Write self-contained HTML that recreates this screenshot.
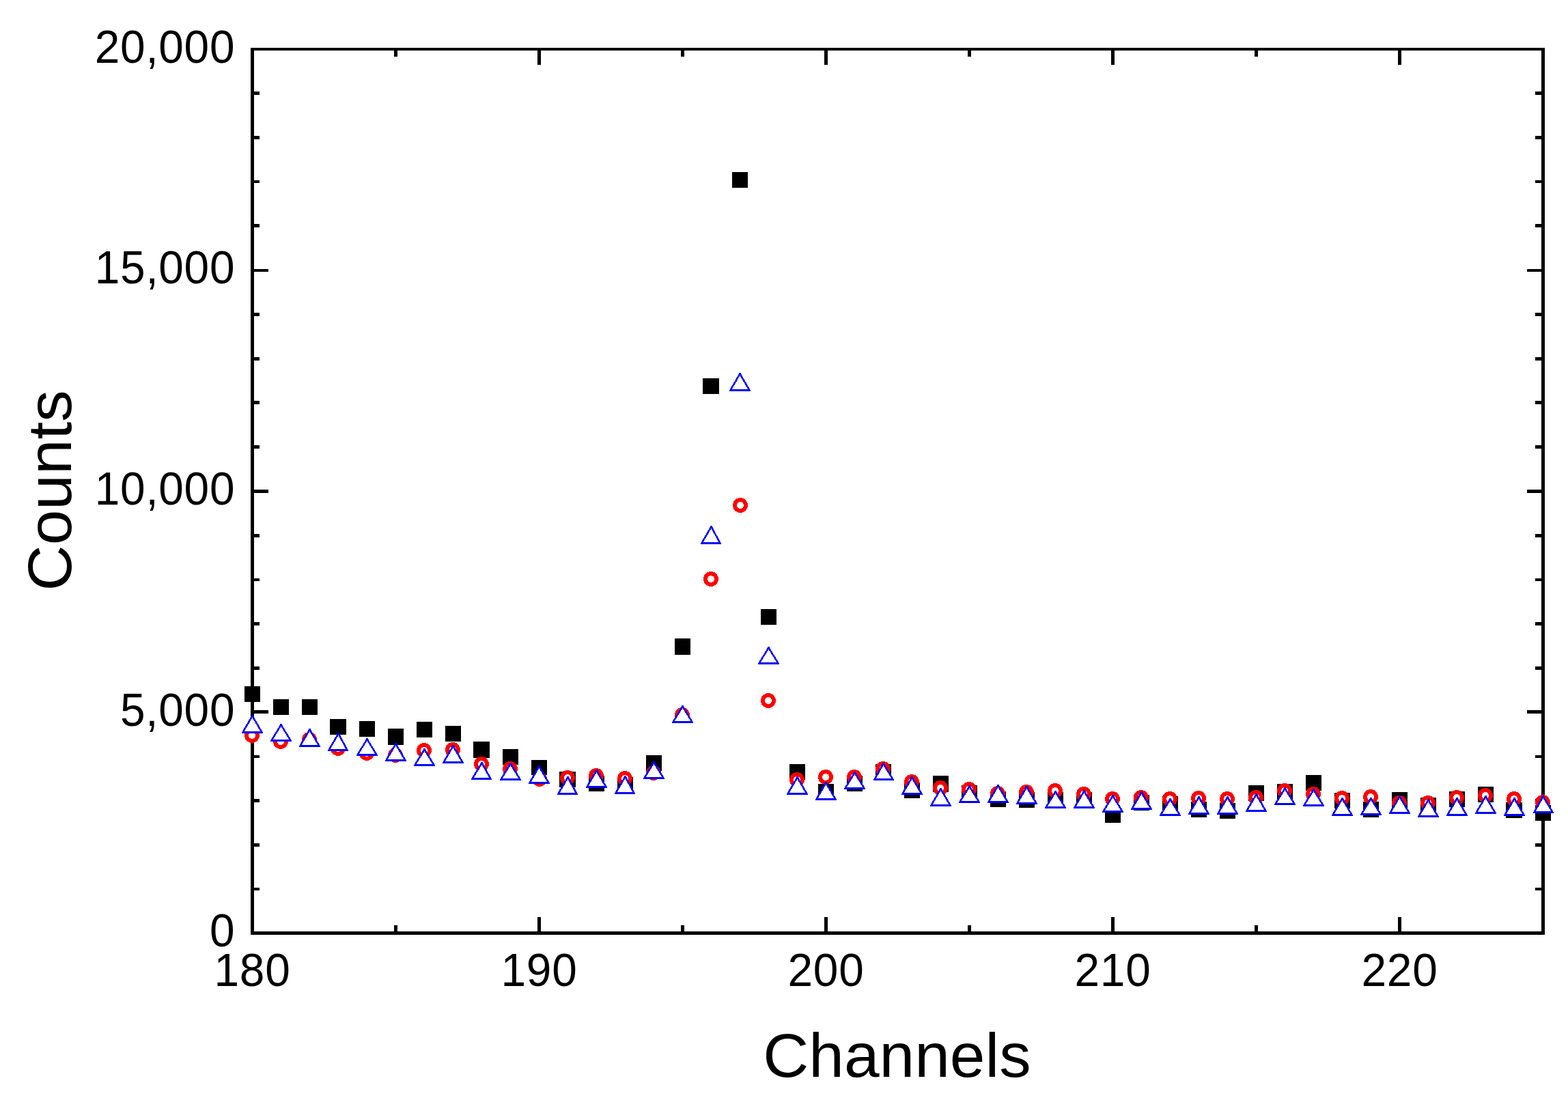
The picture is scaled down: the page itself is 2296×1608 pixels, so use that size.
<!DOCTYPE html>
<html lang="en"><head><meta charset="utf-8"><title>Counts vs Channels</title>
<style>html,body{margin:0;padding:0;background:#fff}body{width:2296px;height:1608px;overflow:hidden}svg{display:block}text{font-family:"Liberation Sans",Arial,Helvetica,sans-serif;fill:#000}.tk{font-size:69.4px}.tt{font-size:91px}</style></head><body>
<svg xmlns="http://www.w3.org/2000/svg" width="2296" height="1608" viewBox="0 0 2296 1608">
<rect x="0" y="0" width="2296" height="1608" fill="#fff"/>
<g fill="#000" shape-rendering="crispEdges">
<path d="M367 70H372V1369H367zM2257 70H2262V1369H2257zM367 70H2262V74H367zM367 1364H2262V1369H367zM367 1300H380V1304H367zM2248 1300H2262V1304H2248zM367 1235H380V1240H367zM2248 1235H2262V1240H2248zM367 1170H380V1175H367zM2248 1170H2262V1175H2248zM367 1106H380V1110H367zM2248 1106H2262V1110H2248zM367 1040H393V1045H367zM2236 1040H2262V1045H2236zM367 976H380V981H367zM2248 976H2262V981H2248zM367 911H380V916H367zM2248 911H2262V916H2248zM367 847H380V851H367zM2248 847H2262V851H2248zM367 782H380V787H367zM2248 782H2262V787H2248zM367 717H393V722H367zM2236 717H2262V722H2236zM367 652H380V657H367zM2248 652H2262V657H2248zM367 587H380V592H367zM2248 587H2262V592H2248zM367 523H380V528H367zM2248 523H2262V528H2248zM367 458H380V463H367zM2248 458H2262V463H2248zM367 394H393V398H367zM2236 394H2262V398H2236zM367 328H380V333H367zM2248 328H2262V333H2248zM367 264H380V268H367zM2248 264H2262V268H2248zM367 199H380V204H367zM2248 199H2262V204H2248zM367 134H380V139H367zM2248 134H2262V139H2248zM577 1355H582V1369H577zM577 70H582V83H577zM787 1343H792V1369H787zM787 70H792V95H787zM997 1355H1002V1369H997zM997 70H1002V83H997zM1207 1343H1212V1369H1207zM1207 70H1212V95H1207zM1417 1355H1422V1369H1417zM1417 70H1422V83H1417zM1627 1343H1632V1369H1627zM1627 70H1632V95H1627zM1837 1355H1842V1369H1837zM1837 70H1842V83H1837zM2047 1343H2052V1369H2047zM2047 70H2052V95H2047z"/>
</g>
<g class="tk" text-anchor="end" letter-spacing="0.7">
<text transform="translate(344.20 1386.00) scale(0.949 1)">0</text>
<text transform="translate(344.20 1063.00) scale(0.949 1)">5,000</text>
<text transform="translate(344.20 739.00) scale(0.949 1)">10,000</text>
<text transform="translate(344.20 415.00) scale(0.949 1)">15,000</text>
<text transform="translate(344.20 92.00) scale(0.949 1)">20,000</text>
</g>
<g class="tk" text-anchor="middle" letter-spacing="0.7">
<text transform="translate(369.50 1444.00) scale(0.949 1)">180</text>
<text transform="translate(789.50 1444.00) scale(0.949 1)">190</text>
<text transform="translate(1209.50 1444.00) scale(0.949 1)">200</text>
<text transform="translate(1629.50 1444.00) scale(0.949 1)">210</text>
<text transform="translate(2049.50 1444.00) scale(0.949 1)">220</text>
</g>
<text class="tt" text-anchor="middle" transform="translate(1313.4 1577) scale(1.0205 1)">Channels</text>
<text class="tt" text-anchor="middle" transform="translate(103.8 718.3) rotate(-90) scale(1.0205 1)">Counts</text>
<g fill="#000" shape-rendering="crispEdges">
<rect x="358" y="1005" width="23" height="23"/>
<rect x="400" y="1024" width="23" height="23"/>
<rect x="442" y="1024" width="23" height="23"/>
<rect x="483" y="1053" width="24" height="23"/>
<rect x="526" y="1056" width="23" height="23"/>
<rect x="568" y="1067" width="23" height="24"/>
<rect x="610" y="1057" width="23" height="23"/>
<rect x="652" y="1063" width="23" height="23"/>
<rect x="693" y="1086" width="24" height="24"/>
<rect x="736" y="1097" width="23" height="23"/>
<rect x="778" y="1113" width="23" height="22"/>
<rect x="819" y="1130" width="24" height="23"/>
<rect x="862" y="1136" width="23" height="23"/>
<rect x="904" y="1138" width="23" height="23"/>
<rect x="946" y="1106" width="23" height="23"/>
<rect x="988" y="935" width="23" height="24"/>
<rect x="1029" y="554" width="24" height="23"/>
<rect x="1072" y="252" width="23" height="23"/>
<rect x="1114" y="892" width="23" height="23"/>
<rect x="1156" y="1119" width="23" height="23"/>
<rect x="1198" y="1148" width="23" height="23"/>
<rect x="1240" y="1136" width="23" height="23"/>
<rect x="1282" y="1119" width="23" height="23"/>
<rect x="1324" y="1146" width="23" height="23"/>
<rect x="1366" y="1136" width="23" height="24"/>
<rect x="1408" y="1150" width="23" height="23"/>
<rect x="1450" y="1159" width="23" height="23"/>
<rect x="1492" y="1160" width="23" height="23"/>
<rect x="1534" y="1160" width="23" height="23"/>
<rect x="1576" y="1160" width="23" height="23"/>
<rect x="1618" y="1182" width="23" height="23"/>
<rect x="1660" y="1164" width="23" height="23"/>
<rect x="1702" y="1166" width="23" height="23"/>
<rect x="1744" y="1174" width="23" height="23"/>
<rect x="1786" y="1176" width="23" height="23"/>
<rect x="1828" y="1150" width="23" height="23"/>
<rect x="1870" y="1148" width="23" height="23"/>
<rect x="1912" y="1135" width="23" height="23"/>
<rect x="1954" y="1161" width="23" height="23"/>
<rect x="1996" y="1174" width="23" height="23"/>
<rect x="2038" y="1160" width="23" height="23"/>
<rect x="2080" y="1168" width="23" height="23"/>
<rect x="2122" y="1159" width="23" height="23"/>
<rect x="2164" y="1152" width="23" height="23"/>
<rect x="2205" y="1175" width="24" height="23"/>
<rect x="2248" y="1179" width="23" height="23"/>
</g>
<g fill="#fff" stroke="#f00" stroke-width="5.9" shape-rendering="crispEdges">
<circle cx="369" cy="1077" r="8.05"/>
<circle cx="411" cy="1086" r="8.05"/>
<circle cx="453" cy="1083" r="8.05"/>
<circle cx="495" cy="1096" r="8.05"/>
<circle cx="537" cy="1103" r="8.05"/>
<circle cx="579" cy="1106" r="8.05"/>
<circle cx="621" cy="1099" r="8.05"/>
<circle cx="663" cy="1098" r="8.05"/>
<circle cx="705" cy="1119" r="8.05"/>
<circle cx="747" cy="1126" r="8.05"/>
<circle cx="790" cy="1141" r="8.05"/>
<circle cx="831" cy="1139" r="8.05"/>
<circle cx="873" cy="1136" r="8.05"/>
<circle cx="915" cy="1140" r="8.05"/>
<circle cx="957" cy="1132" r="8.05"/>
<circle cx="999" cy="1047" r="8.05"/>
<circle cx="1041" cy="848" r="8.05"/>
<circle cx="1084" cy="740" r="8.05"/>
<circle cx="1125" cy="1026" r="8.05"/>
<circle cx="1167" cy="1142" r="8.05"/>
<circle cx="1209" cy="1138" r="8.05"/>
<circle cx="1251" cy="1138" r="8.05"/>
<circle cx="1293" cy="1126" r="8.05"/>
<circle cx="1335" cy="1145" r="8.05"/>
<circle cx="1377" cy="1154" r="8.05"/>
<circle cx="1419" cy="1156" r="8.05"/>
<circle cx="1461" cy="1162" r="8.05"/>
<circle cx="1503" cy="1160" r="8.05"/>
<circle cx="1545" cy="1158" r="8.05"/>
<circle cx="1587" cy="1163" r="8.05"/>
<circle cx="1629" cy="1170" r="8.05"/>
<circle cx="1671" cy="1168" r="8.05"/>
<circle cx="1713" cy="1170" r="8.05"/>
<circle cx="1755" cy="1169" r="8.05"/>
<circle cx="1797" cy="1170" r="8.05"/>
<circle cx="1839" cy="1168" r="8.05"/>
<circle cx="1881" cy="1158" r="8.05"/>
<circle cx="1923" cy="1163" r="8.05"/>
<circle cx="1965" cy="1169" r="8.05"/>
<circle cx="2007" cy="1167" r="8.05"/>
<circle cx="2049" cy="1176" r="8.05"/>
<circle cx="2091" cy="1176" r="8.05"/>
<circle cx="2133" cy="1168" r="8.05"/>
<circle cx="2175" cy="1165" r="8.05"/>
<circle cx="2217" cy="1170" r="8.05"/>
<circle cx="2259" cy="1175" r="8.05"/>
</g>
<g shape-rendering="crispEdges">
<path fill="#fff" d="M368 1047h3v1.5L385 1072.5V1074H354V1072.5L368 1048.5z"/><path fill="#00f" fill-rule="evenodd" d="M368 1047h3v1.5L385 1072.5V1074H354V1072.5L368 1048.5zM369.5 1051.07L381.13 1071H357.87z"/>
<path fill="#fff" d="M410 1060h3v1.5L427 1084.5V1086H396V1084.5L410 1061.5z"/><path fill="#00f" fill-rule="evenodd" d="M410 1060h3v1.5L427 1084.5V1086H396V1084.5L410 1061.5zM411.5 1064.07L423.13 1083H399.87z"/>
<path fill="#fff" d="M452 1067h3v1.5L469 1092.5V1094H438V1092.5L452 1068.5z"/><path fill="#00f" fill-rule="evenodd" d="M452 1067h3v1.5L469 1092.5V1094H438V1092.5L452 1068.5zM453.5 1071.07L465.13 1091H441.87z"/>
<path fill="#fff" d="M494 1073h3v1.5L510 1098.5V1100H480V1098.5L494 1074.5z"/><path fill="#00f" fill-rule="evenodd" d="M494 1073h3v1.5L510 1098.5V1100H480V1098.5L494 1074.5zM495.5 1077.07L506.13 1097H483.87z"/>
<path fill="#fff" d="M536 1081h3v1.5L553 1105.5V1107H522V1105.5L536 1082.5z"/><path fill="#00f" fill-rule="evenodd" d="M536 1081h3v1.5L553 1105.5V1107H522V1105.5L536 1082.5zM537.5 1085.07L549.13 1104H525.87z"/>
<path fill="#fff" d="M578 1088h3v1.5L595 1113.5V1115H564V1113.5L578 1089.5z"/><path fill="#00f" fill-rule="evenodd" d="M578 1088h3v1.5L595 1113.5V1115H564V1113.5L578 1089.5zM579.5 1092.07L591.13 1112H567.87z"/>
<path fill="#fff" d="M620 1096h3v1.5L637 1120.5V1122H606V1120.5L620 1097.5z"/><path fill="#00f" fill-rule="evenodd" d="M620 1096h3v1.5L637 1120.5V1122H606V1120.5L620 1097.5zM621.5 1100.07L633.13 1119H609.87z"/>
<path fill="#fff" d="M662 1091h3v1.5L679 1116.5V1118H648V1116.5L662 1092.5z"/><path fill="#00f" fill-rule="evenodd" d="M662 1091h3v1.5L679 1116.5V1118H648V1116.5L662 1092.5zM663.5 1095.07L675.13 1115H651.87z"/>
<path fill="#fff" d="M704 1116h3v1.5L720 1140.5V1142H690V1140.5L704 1117.5z"/><path fill="#00f" fill-rule="evenodd" d="M704 1116h3v1.5L720 1140.5V1142H690V1140.5L704 1117.5zM705.5 1120.07L716.13 1139H693.87z"/>
<path fill="#fff" d="M746 1117h3v1.5L763 1141.5V1143H732V1141.5L746 1118.5z"/><path fill="#00f" fill-rule="evenodd" d="M746 1117h3v1.5L763 1141.5V1143H732V1141.5L746 1118.5zM747.5 1121.07L759.13 1140H735.87z"/>
<path fill="#fff" d="M788 1121h3v1.5L805 1146.5V1148H774V1146.5L788 1122.5z"/><path fill="#00f" fill-rule="evenodd" d="M788 1121h3v1.5L805 1146.5V1148H774V1146.5L788 1122.5zM789.5 1125.07L801.13 1145H777.87z"/>
<path fill="#fff" d="M830 1137h3v1.5L846 1162.5V1164H816V1162.5L830 1138.5z"/><path fill="#00f" fill-rule="evenodd" d="M830 1137h3v1.5L846 1162.5V1164H816V1162.5L830 1138.5zM831.5 1141.07L842.13 1161H819.87z"/>
<path fill="#fff" d="M872 1127h3v1.5L889 1152.5V1154H858V1152.5L872 1128.5z"/><path fill="#00f" fill-rule="evenodd" d="M872 1127h3v1.5L889 1152.5V1154H858V1152.5L872 1128.5zM873.5 1131.07L885.13 1151H861.87z"/>
<path fill="#fff" d="M914 1136h3v1.5L930 1161.5V1163H900V1161.5L914 1137.5z"/><path fill="#00f" fill-rule="evenodd" d="M914 1136h3v1.5L930 1161.5V1163H900V1161.5L914 1137.5zM915.5 1140.07L926.13 1160H903.87z"/>
<path fill="#fff" d="M956 1115h3v1.5L973 1139.5V1141H942V1139.5L956 1116.5z"/><path fill="#00f" fill-rule="evenodd" d="M956 1115h3v1.5L973 1139.5V1141H942V1139.5L956 1116.5zM957.5 1119.07L969.13 1138H945.87z"/>
<path fill="#fff" d="M998 1033h3v1.5L1015 1057.5V1059H984V1057.5L998 1034.5z"/><path fill="#00f" fill-rule="evenodd" d="M998 1033h3v1.5L1015 1057.5V1059H984V1057.5L998 1034.5zM999.5 1037.07L1011.13 1056H987.87z"/>
<path fill="#fff" d="M1040 770h3v1.5L1056 795.5V797H1026V795.5L1040 771.5z"/><path fill="#00f" fill-rule="evenodd" d="M1040 770h3v1.5L1056 795.5V797H1026V795.5L1040 771.5zM1041.5 774.07L1052.13 794H1029.87z"/>
<path fill="#fff" d="M1082 546h3v1.5L1099 571.5V573H1068V571.5L1082 547.5z"/><path fill="#00f" fill-rule="evenodd" d="M1082 546h3v1.5L1099 571.5V573H1068V571.5L1082 547.5zM1083.5 550.07L1095.13 570H1071.87z"/>
<path fill="#fff" d="M1124 947h3v1.5L1141 971.5V973H1110V971.5L1124 948.5z"/><path fill="#00f" fill-rule="evenodd" d="M1124 947h3v1.5L1141 971.5V973H1110V971.5L1124 948.5zM1125.5 951.07L1137.13 970H1113.87z"/>
<path fill="#fff" d="M1166 1137h3v1.5L1183 1162.5V1164H1152V1162.5L1166 1138.5z"/><path fill="#00f" fill-rule="evenodd" d="M1166 1137h3v1.5L1183 1162.5V1164H1152V1162.5L1166 1138.5zM1167.5 1141.07L1179.13 1161H1155.87z"/>
<path fill="#fff" d="M1208 1145h3v1.5L1225 1170.5V1172H1194V1170.5L1208 1146.5z"/><path fill="#00f" fill-rule="evenodd" d="M1208 1145h3v1.5L1225 1170.5V1172H1194V1170.5L1208 1146.5zM1209.5 1149.07L1221.13 1169H1197.87z"/>
<path fill="#fff" d="M1250 1130h3v1.5L1267 1154.5V1156H1236V1154.5L1250 1131.5z"/><path fill="#00f" fill-rule="evenodd" d="M1250 1130h3v1.5L1267 1154.5V1156H1236V1154.5L1250 1131.5zM1251.5 1134.07L1263.13 1153H1239.87z"/>
<path fill="#fff" d="M1292 1117h3v1.5L1309 1141.5V1143H1279V1141.5L1292 1118.5z"/><path fill="#00f" fill-rule="evenodd" d="M1292 1117h3v1.5L1309 1141.5V1143H1279V1141.5L1292 1118.5zM1293.5 1121.07L1305.13 1140H1282.87z"/>
<path fill="#fff" d="M1334 1137h3v1.5L1351 1162.5V1164H1320V1162.5L1334 1138.5z"/><path fill="#00f" fill-rule="evenodd" d="M1334 1137h3v1.5L1351 1162.5V1164H1320V1162.5L1334 1138.5zM1335.5 1141.07L1347.13 1161H1323.87z"/>
<path fill="#fff" d="M1376 1154h3v1.5L1393 1179.5V1181H1362V1179.5L1376 1155.5z"/><path fill="#00f" fill-rule="evenodd" d="M1376 1154h3v1.5L1393 1179.5V1181H1362V1179.5L1376 1155.5zM1377.5 1158.07L1389.13 1178H1365.87z"/>
<path fill="#fff" d="M1418 1150h3v1.5L1435 1174.5V1176H1404V1174.5L1418 1151.5z"/><path fill="#00f" fill-rule="evenodd" d="M1418 1150h3v1.5L1435 1174.5V1176H1404V1174.5L1418 1151.5zM1419.5 1154.07L1431.13 1173H1407.87z"/>
<path fill="#fff" d="M1460 1149h3v1.5L1477 1174.5V1176H1446V1174.5L1460 1150.5z"/><path fill="#00f" fill-rule="evenodd" d="M1460 1149h3v1.5L1477 1174.5V1176H1446V1174.5L1460 1150.5zM1461.5 1153.07L1473.13 1173H1449.87z"/>
<path fill="#fff" d="M1502 1151h3v1.5L1519 1176.5V1178H1488V1176.5L1502 1152.5z"/><path fill="#00f" fill-rule="evenodd" d="M1502 1151h3v1.5L1519 1176.5V1178H1488V1176.5L1502 1152.5zM1503.5 1155.07L1515.13 1175H1491.87z"/>
<path fill="#fff" d="M1544 1158h3v1.5L1561 1182.5V1184H1530V1182.5L1544 1159.5z"/><path fill="#00f" fill-rule="evenodd" d="M1544 1158h3v1.5L1561 1182.5V1184H1530V1182.5L1544 1159.5zM1545.5 1162.07L1557.13 1181H1533.87z"/>
<path fill="#fff" d="M1586 1157h3v1.5L1603 1182.5V1184H1572V1182.5L1586 1158.5z"/><path fill="#00f" fill-rule="evenodd" d="M1586 1157h3v1.5L1603 1182.5V1184H1572V1182.5L1586 1158.5zM1587.5 1161.07L1599.13 1181H1575.87z"/>
<path fill="#fff" d="M1628 1164h3v1.5L1645 1188.5V1190H1614V1188.5L1628 1165.5z"/><path fill="#00f" fill-rule="evenodd" d="M1628 1164h3v1.5L1645 1188.5V1190H1614V1188.5L1628 1165.5zM1629.5 1168.07L1641.13 1187H1617.87z"/>
<path fill="#fff" d="M1670 1159h3v1.5L1687 1184.5V1186H1656V1184.5L1670 1160.5z"/><path fill="#00f" fill-rule="evenodd" d="M1670 1159h3v1.5L1687 1184.5V1186H1656V1184.5L1670 1160.5zM1671.5 1163.07L1683.13 1183H1659.87z"/>
<path fill="#fff" d="M1712 1169h3v1.5L1729 1193.5V1195H1698V1193.5L1712 1170.5z"/><path fill="#00f" fill-rule="evenodd" d="M1712 1169h3v1.5L1729 1193.5V1195H1698V1193.5L1712 1170.5zM1713.5 1173.07L1725.13 1192H1701.87z"/>
<path fill="#fff" d="M1754 1166h3v1.5L1771 1191.5V1193H1740V1191.5L1754 1167.5z"/><path fill="#00f" fill-rule="evenodd" d="M1754 1166h3v1.5L1771 1191.5V1193H1740V1191.5L1754 1167.5zM1755.5 1170.07L1767.13 1190H1743.87z"/>
<path fill="#fff" d="M1796 1166h3v1.5L1813 1191.5V1193H1782V1191.5L1796 1167.5z"/><path fill="#00f" fill-rule="evenodd" d="M1796 1166h3v1.5L1813 1191.5V1193H1782V1191.5L1796 1167.5zM1797.5 1170.07L1809.13 1190H1785.87z"/>
<path fill="#fff" d="M1838 1162h3v1.5L1855 1187.5V1189H1824V1187.5L1838 1163.5z"/><path fill="#00f" fill-rule="evenodd" d="M1838 1162h3v1.5L1855 1187.5V1189H1824V1187.5L1838 1163.5zM1839.5 1166.07L1851.13 1186H1827.87z"/>
<path fill="#fff" d="M1880 1153h3v1.5L1897 1177.5V1179H1866V1177.5L1880 1154.5z"/><path fill="#00f" fill-rule="evenodd" d="M1880 1153h3v1.5L1897 1177.5V1179H1866V1177.5L1880 1154.5zM1881.5 1157.07L1893.13 1176H1869.87z"/>
<path fill="#fff" d="M1922 1155h3v1.5L1939 1179.5V1181H1908V1179.5L1922 1156.5z"/><path fill="#00f" fill-rule="evenodd" d="M1922 1155h3v1.5L1939 1179.5V1181H1908V1179.5L1922 1156.5zM1923.5 1159.07L1935.13 1178H1911.87z"/>
<path fill="#fff" d="M1964 1168h3v1.5L1981 1193.5V1195H1950V1193.5L1964 1169.5z"/><path fill="#00f" fill-rule="evenodd" d="M1964 1168h3v1.5L1981 1193.5V1195H1950V1193.5L1964 1169.5zM1965.5 1172.07L1977.13 1192H1953.87z"/>
<path fill="#fff" d="M2006 1168h3v1.5L2023 1192.5V1194H1992V1192.5L2006 1169.5z"/><path fill="#00f" fill-rule="evenodd" d="M2006 1168h3v1.5L2023 1192.5V1194H1992V1192.5L2006 1169.5zM2007.5 1172.07L2019.13 1191H1995.87z"/>
<path fill="#fff" d="M2048 1165h3v1.5L2065 1190.5V1192H2034V1190.5L2048 1166.5z"/><path fill="#00f" fill-rule="evenodd" d="M2048 1165h3v1.5L2065 1190.5V1192H2034V1190.5L2048 1166.5zM2049.5 1169.07L2061.13 1189H2037.87z"/>
<path fill="#fff" d="M2090 1170h3v1.5L2107 1195.5V1197H2076V1195.5L2090 1171.5z"/><path fill="#00f" fill-rule="evenodd" d="M2090 1170h3v1.5L2107 1195.5V1197H2076V1195.5L2090 1171.5zM2091.5 1174.07L2103.13 1194H2079.87z"/>
<path fill="#fff" d="M2132 1168h3v1.5L2149 1193.5V1195H2118V1193.5L2132 1169.5z"/><path fill="#00f" fill-rule="evenodd" d="M2132 1168h3v1.5L2149 1193.5V1195H2118V1193.5L2132 1169.5zM2133.5 1172.07L2145.13 1192H2121.87z"/>
<path fill="#fff" d="M2174 1165h3v1.5L2191 1190.5V1192H2160V1190.5L2174 1166.5z"/><path fill="#00f" fill-rule="evenodd" d="M2174 1165h3v1.5L2191 1190.5V1192H2160V1190.5L2174 1166.5zM2175.5 1169.07L2187.13 1189H2163.87z"/>
<path fill="#fff" d="M2216 1168h3v1.5L2233 1193.5V1195H2202V1193.5L2216 1169.5z"/><path fill="#00f" fill-rule="evenodd" d="M2216 1168h3v1.5L2233 1193.5V1195H2202V1193.5L2216 1169.5zM2217.5 1172.07L2229.13 1192H2205.87z"/>
<path fill="#fff" d="M2258 1165h3v1.5L2275 1189.5V1191H2245V1189.5L2258 1166.5z"/><path fill="#00f" fill-rule="evenodd" d="M2258 1165h3v1.5L2275 1189.5V1191H2245V1189.5L2258 1166.5zM2259.5 1169.07L2271.13 1188H2248.87z"/>
</g>
</svg></body></html>
